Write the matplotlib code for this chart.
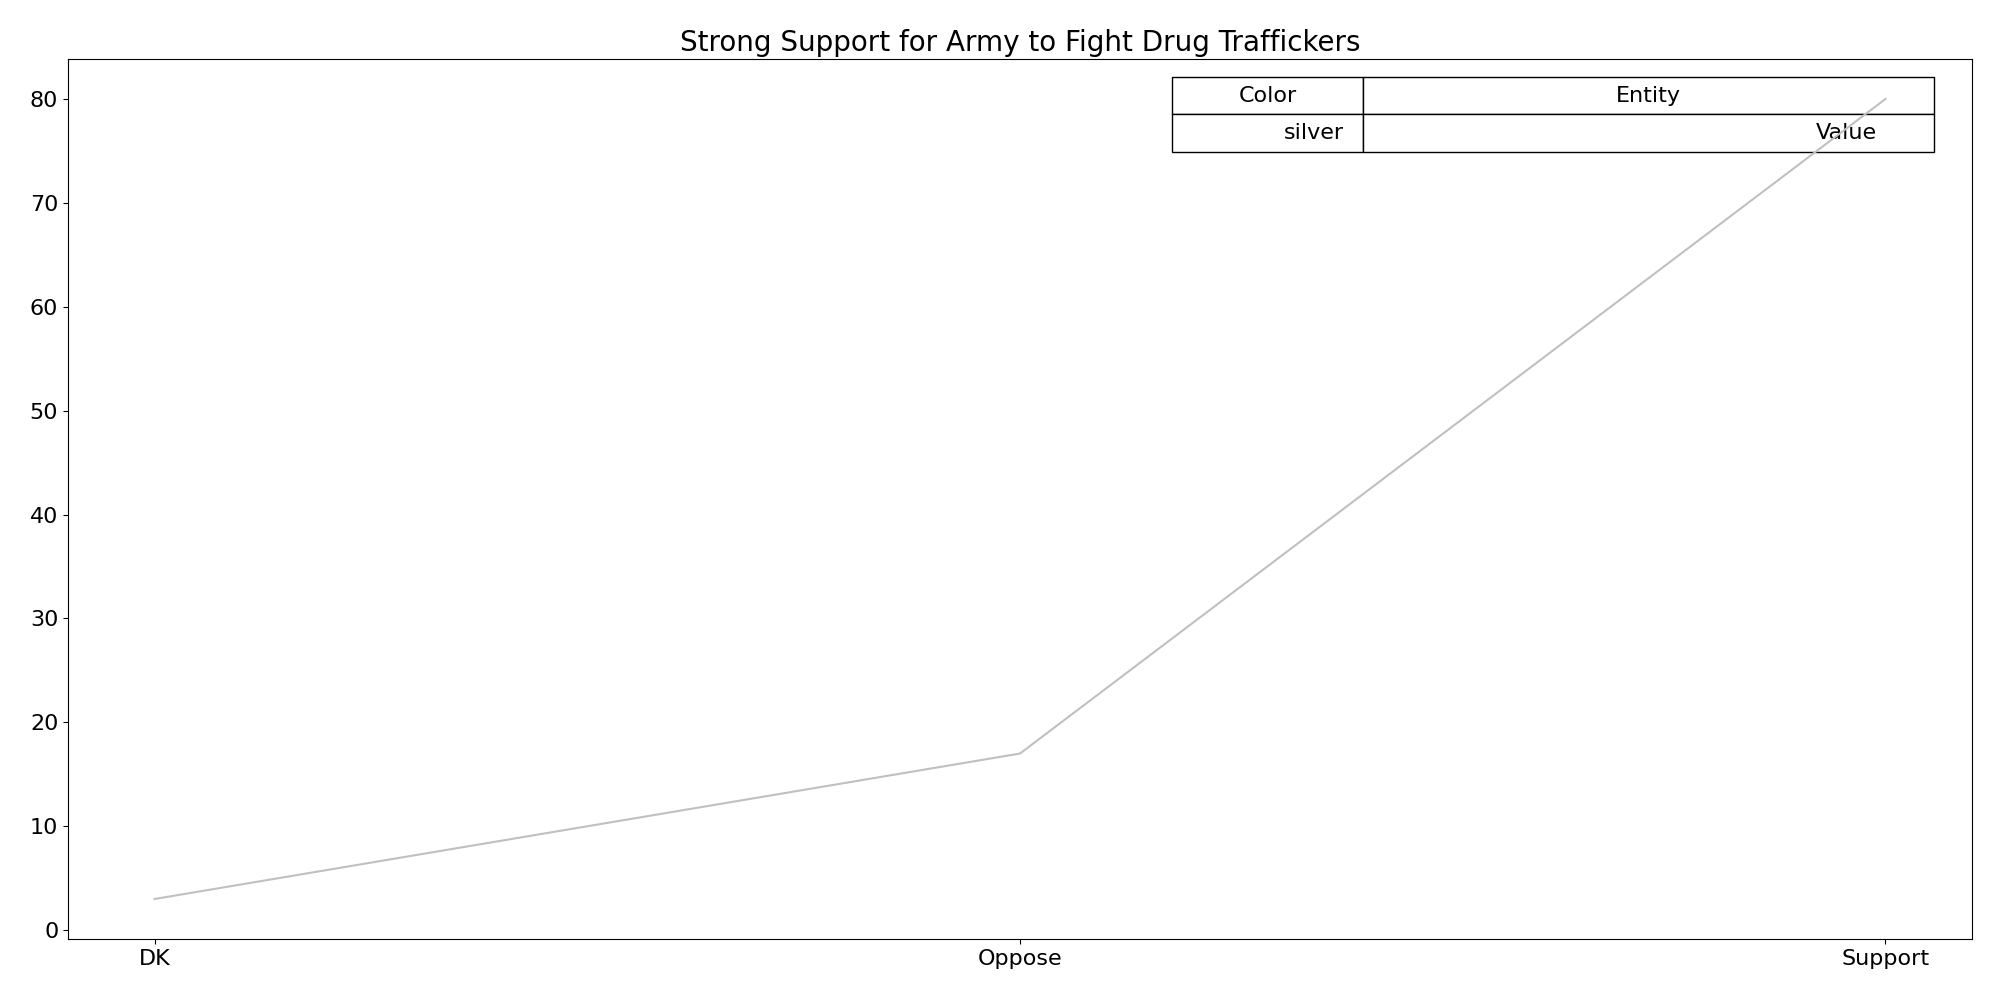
import matplotlib
matplotlib.use("Agg")
import matplotlib.pyplot as plt

categories = ["DK", "Oppose", "Support"]
values = [3, 17, 80]
col_labels = ["Color", "Entity"]
cell_text = [["silver", "Value"]]

fig, ax = plt.subplots(figsize=(20, 10), dpi=100)
ax.plot(categories, values, color="silver", linewidth=1.5)
ax.set_title("Strong Support for Army to Fight Drug Traffickers", fontsize=20)
ax.tick_params(labelsize=16)
tbl = ax.table(cellText=cell_text, colLabels=col_labels, colWidths=[0.1, 0.3],
               bbox=[0.580, 0.894, 0.400, 0.086])
tbl.auto_set_font_size(False)
tbl.set_fontsize(16)
fig.subplots_adjust(left=0.034, right=0.986, top=0.941, bottom=0.061)
fig.savefig("out.png")
